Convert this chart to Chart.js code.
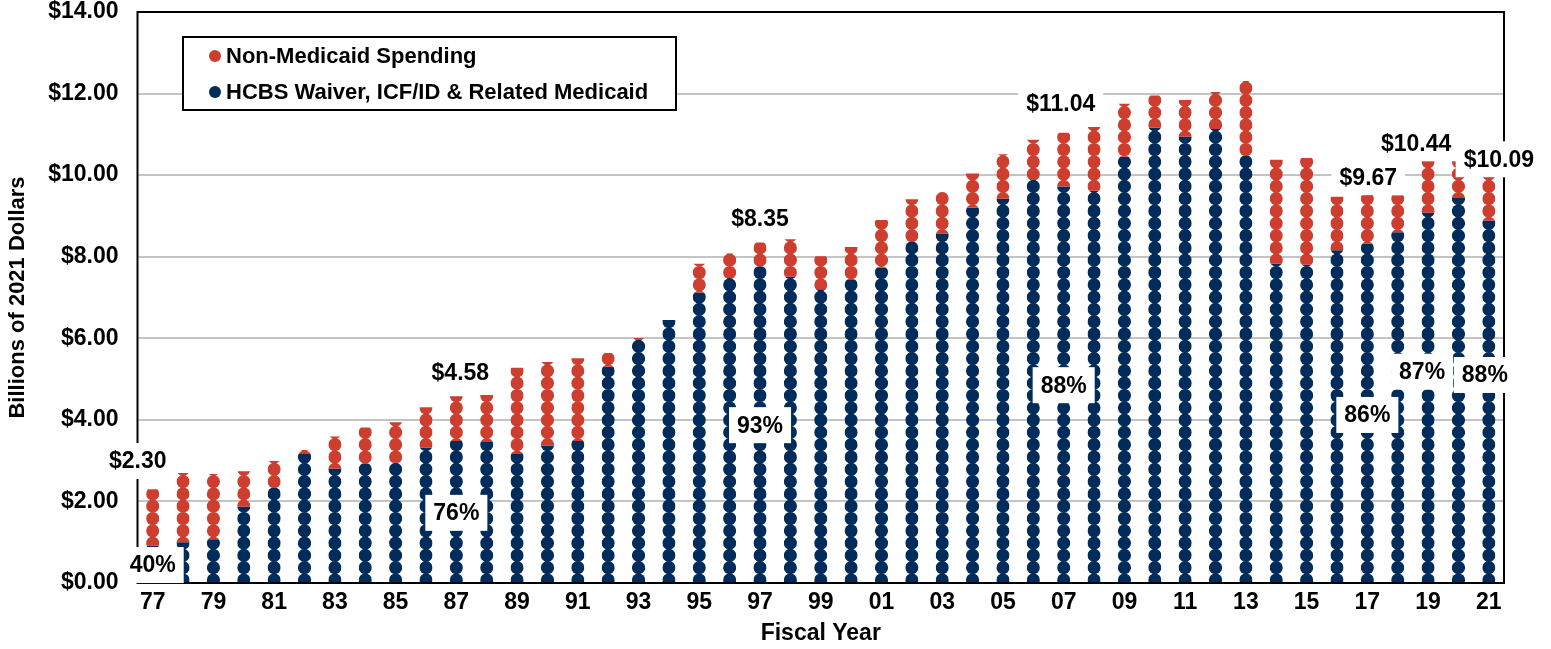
<!DOCTYPE html>
<html>
<head>
<meta charset="utf-8">
<title>HCBS Waiver, ICF/ID and Non-Medicaid Spending</title>
<script src="https://cdn.jsdelivr.net/npm/chart.js@4.4.1/dist/chart.umd.min.js"></script>
<style>
  html, body { margin: 0; padding: 0; background: #fff; }
  #wrap { width: 1551px; height: 649px; position: relative; }
</style>
</head>
<body>
<div id="wrap"><canvas id="chart"></canvas></div>
<script>
// fiscal years 1977 - 2021, billions of 2021 dollars
const years = ['77','78','79','80','81','82','83','84','85','86','87','88','89','90','91','92','93','94','95','96','97','98','99',
               '00','01','02','03','04','05','06','07','08','09','10','11','12','13','14','15','16','17','18','19','20','21'];

const medicaid = [0.92, 1.00, 1.07, 1.87, 2.34, 3.16, 2.80, 2.93, 2.95, 3.32, 3.48, 3.46, 3.16, 3.37, 3.48, 5.30, 5.96, 6.45, 7.12, 7.48, 7.76, 7.51, 7.20,
                  7.43, 7.73, 8.37, 8.57, 9.20, 9.42, 9.88, 9.72, 9.62, 10.45, 11.16, 10.94, 11.13, 10.47, 7.83, 7.80, 8.16, 8.32, 8.60, 9.08, 9.44, 8.88];

const nonMedicaid = [1.38, 1.70, 1.60, 0.87, 0.65, 0.10, 0.79, 0.88, 0.99, 0.99, 1.10, 1.15, 2.12, 2.05, 2.03, 0.34, 0.05, -0.03, 0.71, 0.60, 0.59, 0.92, 0.81,
                     0.81, 1.17, 1.04, 1.01, 0.84, 1.09, 0.99, 1.32, 1.56, 1.30, 0.79, 0.90, 0.91, 1.84, 2.55, 2.62, 1.31, 1.35, 0.91, 1.36, 0.91, 1.21];

const yTicks = [0, 2, 4, 6, 8, 10, 12, 14];

// years that get a total ($) and a Medicaid share (%) callout
const calloutYears = ['77', '87', '97', '07', '17', '19', '21'];

// where each callout sits: value on the y scale and a small sideways nudge
const calloutSpots = {
  '77': { totalAt: 2.99,  totalDx: -15, pctAt: 0.44, pctDx: 0 },
  '87': { totalAt: 5.15,  totalDx: 4,   pctAt: 1.72, pctDx: 0 },
  '97': { totalAt: 8.94,  totalDx: 0,   pctAt: 3.87, pctDx: 0 },
  '07': { totalAt: 11.76, totalDx: -3,  pctAt: 4.85, pctDx: 0 },
  '17': { totalAt: 9.95,  totalDx: 1,   pctAt: 4.12, pctDx: 0 },
  '19': { totalAt: 10.78, totalDx: -12, pctAt: 5.18, pctDx: -6 },
  '21': { totalAt: 10.39, totalDx: 10,  pctAt: 5.10, pctDx: -4 }
};

const RED = '#cd3e2e';
const NAVY = '#002c5b';
const FONT = '"Liberation Sans", Arial, sans-serif';

const PITCH = 12.3;
const R = 6.6;

// bars are drawn as columns of dots
const dotBars = {
  id: 'dotBars',
  afterDatasetsDraw(chart) {
    const ctx = chart.ctx;
    const zero = chart.scales.y.getPixelForValue(0);
    chart.data.datasets.forEach((ds, i) => {
      const meta = chart.getDatasetMeta(i);
      meta.data.forEach(bar => {
        const p = bar.getProps(['x', 'y', 'base', 'width'], true);
        const top = Math.min(p.y, p.base), bot = Math.max(p.y, p.base);
        if (bot - top < 0.5) return;
        ctx.save();
        ctx.beginPath();
        ctx.rect(p.x - p.width / 2, top, p.width, bot - top);
        ctx.clip();
        ctx.fillStyle = ds.dotColor;
        for (let k = -3; k < 200; k++) {
          const cy = zero - 3 - k * PITCH;
          if (cy - R > bot) continue;
          if (cy + R < top) break;
          ctx.beginPath();
          ctx.arc(p.x, cy, R, 0, Math.PI * 2);
          ctx.fill();
        }
        ctx.restore();
      });
    });

    // frame round the plot
    const a = chart.chartArea;
    ctx.save();
    ctx.strokeStyle = '#000';
    ctx.lineWidth = 2;
    ctx.strokeRect(a.left, a.top, a.right - a.left, a.bottom - a.top);
    ctx.restore();
  }
};

function boxedText(ctx, text, x, y) {
  ctx.font = 'bold 23px ' + FONT;
  const w = ctx.measureText(text).width;
  ctx.fillStyle = '#fff';
  ctx.fillRect(x - w / 2 - 8, y - 18, w + 16, 36);
  ctx.fillStyle = '#000';
  ctx.textAlign = 'center';
  ctx.textBaseline = 'middle';
  ctx.fillText(text, x, y + 1);
}

const callouts = {
  id: 'callouts',
  afterDraw(chart) {
    const ctx = chart.ctx;
    const xs = chart.scales.x, ys = chart.scales.y;
    ctx.save();
    calloutYears.forEach(yr => {
      const i = years.indexOf(yr);
      const spot = calloutSpots[yr];
      const total = medicaid[i] + nonMedicaid[i];
      const pct = Math.round(medicaid[i] / total * 100);
      const x = xs.getPixelForValue(i);
      boxedText(ctx, '$' + total.toFixed(2), x + spot.totalDx, ys.getPixelForValue(spot.totalAt));
      boxedText(ctx, pct + '%', x + spot.pctDx, ys.getPixelForValue(spot.pctAt));
    });

    // legend box inside the plot
    const lx = 183, ly = 37, lw = 493, lh = 73;
    ctx.fillStyle = '#fff';
    ctx.fillRect(lx, ly, lw, lh);
    ctx.strokeStyle = '#000';
    ctx.lineWidth = 2;
    ctx.strokeRect(lx, ly, lw, lh);
    ctx.font = 'bold 22px ' + FONT;
    ctx.textAlign = 'left';
    ctx.textBaseline = 'middle';
    const items = [
      { text: 'Non-Medicaid Spending', color: RED, y: 56 },
      { text: 'HCBS Waiver, ICF/ID & Related Medicaid', color: NAVY, y: 92 }
    ];
    items.forEach(it => {
      ctx.fillStyle = it.color;
      ctx.beginPath();
      ctx.arc(215, it.y, 6, 0, Math.PI * 2);
      ctx.fill();
      ctx.fillStyle = '#000';
      ctx.fillText(it.text, 226, it.y + 1);
    });
    ctx.restore();
  }
};

const ctx = document.getElementById('chart').getContext('2d');

new Chart(ctx, {
  type: 'bar',
  data: {
    labels: years,
    datasets: [
      {
        label: 'HCBS Waiver, ICF/ID & Related Medicaid',
        data: medicaid,
        dotColor: NAVY,
        backgroundColor: 'rgba(0,0,0,0)',
        borderWidth: 0,
        stack: 's'
      },
      {
        label: 'Non-Medicaid Spending',
        data: nonMedicaid,
        dotColor: RED,
        backgroundColor: 'rgba(0,0,0,0)',
        borderWidth: 0,
        stack: 's'
      }
    ]
  },
  options: {
    responsive: true,
    maintainAspectRatio: false,
    animation: false,
    layout: { padding: { top: 12, right: 47, left: 0, bottom: 0 } },
    categoryPercentage: 1,
    barPercentage: 0.43,
    plugins: {
      legend: { display: false },
      tooltip: { enabled: false }
    },
    scales: {
      x: {
        stacked: true,
        grid: { display: false, drawTicks: false },
        border: { display: false },
        ticks: {
          autoSkip: false,
          maxRotation: 0,
          padding: 6,
          color: '#000',
          font: { family: FONT, size: 23, weight: 'bold' },
          callback: function (v, i) { return i % 2 === 0 ? years[i] : ''; }
        },
        title: {
          display: true,
          text: 'Fiscal Year',
          color: '#000',
          font: { family: FONT, size: 23, weight: 'bold' },
          padding: { top: 0, bottom: 2 }
        },
        afterFit: function (scale) { scale.height = 66; }
      },
      y: {
        stacked: true,
        min: 0,
        max: 14,
        afterBuildTicks: function (scale) { scale.ticks = yTicks.map(v => ({ value: v })); },
        grid: { color: '#c4c4c4', lineWidth: 2, drawTicks: false },
        border: { display: false },
        ticks: {
          padding: 19,
          color: '#000',
          font: { family: FONT, size: 23, weight: 'bold' },
          callback: function (v) { return '$' + Number(v).toFixed(2); }
        },
        title: {
          display: true,
          text: 'Billions of 2021 Dollars',
          color: '#000',
          font: { family: FONT, size: 22, weight: 'bold' },
          padding: { top: 5, bottom: 0 }
        },
        afterFit: function (scale) {
          scale.width = 137.5;
          scale.paddingTop = 0;
          scale.paddingBottom = 0;
        }
      }
    }
  },
  plugins: [dotBars, callouts]
});
</script>
</body>
</html>
